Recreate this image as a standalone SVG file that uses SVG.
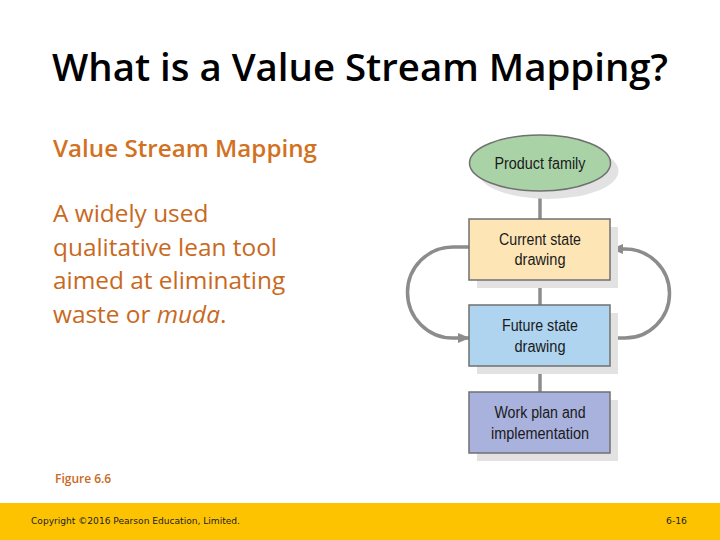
<svg xmlns="http://www.w3.org/2000/svg" width="720" height="540" viewBox="0 0 720 540">
<defs>
<style>
.title{font-family:"Open Sans","Liberation Sans",sans-serif;font-weight:600;font-size:38px;fill:#000}
.sub{font-family:"Open Sans","Liberation Sans",sans-serif;font-weight:600;font-size:23px;fill:#D2721F}
.body{font-family:"Open Sans","Liberation Sans",sans-serif;font-size:24.4px;fill:#C8691E}
.fig{font-family:"Open Sans","Liberation Sans",sans-serif;font-weight:600;font-size:12px;fill:#C8691E}
.foot{font-family:"DejaVu Sans","Liberation Sans",sans-serif;font-size:8.5px;fill:#222}
.lbl{font-family:"Liberation Sans",Arial,sans-serif;font-size:16px;fill:#1a1a1a;text-anchor:middle}
.shadow{fill:#e2e2e2}
.node{stroke:#707070;stroke-width:1.5}
.conn{stroke:#8c8c8c;stroke-width:3.5;fill:none}
</style>
<marker id="arr" viewBox="0 0 12 10" refX="11" refY="5" markerWidth="12" markerHeight="10" markerUnits="userSpaceOnUse" orient="auto">
<path d="M0,0 L12,5 L0,10 Z" fill="#8c8c8c"/>
</marker>
</defs>
<rect width="720" height="540" fill="#fff"/>
<text class="title" x="52" y="81" textLength="616" lengthAdjust="spacingAndGlyphs">What is a Value Stream Mapping?</text>
<text class="sub" x="53" y="157" textLength="264" lengthAdjust="spacingAndGlyphs">Value Stream Mapping</text>
<text class="body" x="53" y="222">A widely used</text>
<text class="body" x="53" y="256">qualitative lean tool</text>
<text class="body" x="53" y="289">aimed at eliminating</text>
<text class="body" x="53" y="323">waste or <tspan font-style="italic">muda</tspan>.</text>
<text class="fig" x="55" y="483">Figure 6.6</text>

<g id="connectors">
<line class="conn" x1="540" y1="191" x2="540" y2="219"/>
<line class="conn" x1="540" y1="280" x2="540" y2="305"/>
<line class="conn" x1="540" y1="366" x2="540" y2="392"/>
<path class="conn" d="M469,247 H453 A45.5,45.5 0 0 0 453,338 H469" marker-end="url(#arr)"/>
<path class="conn" d="M610,338 H625 A44.5,44.5 0 0 0 625,249 H612" marker-end="url(#arr)"/>
</g>

<g id="product-family">
<ellipse class="shadow" cx="548" cy="171" rx="70.5" ry="28"/>
<ellipse class="node" cx="540" cy="163" rx="70.5" ry="28" fill="#A9D3A6"/>
<text class="lbl" x="540" y="169" textLength="91" lengthAdjust="spacingAndGlyphs">Product family</text>
</g>
<g id="current-state">
<rect class="shadow" x="477" y="227" width="141" height="61"/>
<rect class="node" x="469" y="219" width="141" height="61" fill="#FDE5B6"/>
<text class="lbl" x="540" y="245" textLength="82" lengthAdjust="spacingAndGlyphs">Current state</text>
<text class="lbl" x="540" y="265" textLength="51" lengthAdjust="spacingAndGlyphs">drawing</text>
</g>
<g id="future-state">
<rect class="shadow" x="477" y="313" width="141" height="61"/>
<rect class="node" x="469" y="305" width="141" height="61" fill="#AED4F0"/>
<text class="lbl" x="540" y="331" textLength="76" lengthAdjust="spacingAndGlyphs">Future state</text>
<text class="lbl" x="540" y="352" textLength="51" lengthAdjust="spacingAndGlyphs">drawing</text>
</g>
<g id="work-plan">
<rect class="shadow" x="477" y="400" width="141" height="61"/>
<rect class="node" x="469" y="392" width="141" height="61" fill="#A9B1DD"/>
<text class="lbl" x="540" y="418" textLength="91" lengthAdjust="spacingAndGlyphs">Work plan and</text>
<text class="lbl" x="540" y="439" textLength="98" lengthAdjust="spacingAndGlyphs">implementation</text>
</g>

<rect x="0" y="503" width="720" height="37" fill="#FDC300"/>
<text class="foot" x="31" y="524" textLength="209" lengthAdjust="spacingAndGlyphs">Copyright ©2016 Pearson Education, Limited.</text>
<text class="foot" x="666" y="524" textLength="21" lengthAdjust="spacingAndGlyphs">6-16</text>
</svg>
